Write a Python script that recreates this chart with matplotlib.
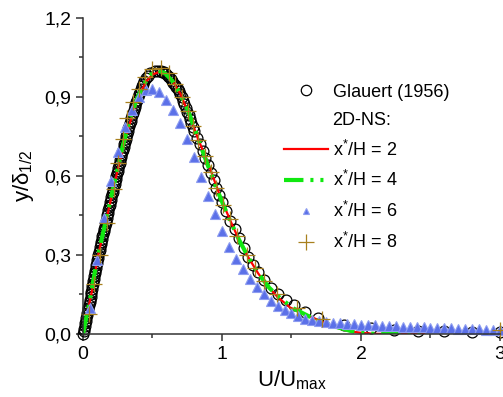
import matplotlib
matplotlib.use("Agg")
import matplotlib.pyplot as plt
from matplotlib.lines import Line2D
from matplotlib.ticker import MultipleLocator, FuncFormatter

# Glauert (1956) similarity profile
glauert_x = [0.000, 0.004, 0.008, 0.012, 0.016, 0.020, 0.024, 0.027, 0.031, 0.035,
             0.039, 0.043, 0.047, 0.050, 0.054, 0.058, 0.061, 0.065, 0.068, 0.072,
             0.075, 0.079, 0.082, 0.086, 0.089, 0.093, 0.096, 0.100, 0.103, 0.107,
             0.110, 0.115, 0.119, 0.123, 0.127, 0.132, 0.136, 0.140, 0.144, 0.149,
             0.153, 0.157, 0.162, 0.166, 0.170, 0.175, 0.179, 0.183, 0.188, 0.192,
             0.196, 0.201, 0.205, 0.209, 0.214, 0.218, 0.222, 0.227, 0.231, 0.236,
             0.240, 0.245, 0.249, 0.254, 0.258, 0.263, 0.267, 0.272, 0.277, 0.282,
             0.287, 0.292, 0.297, 0.301, 0.306, 0.311, 0.316, 0.321, 0.327, 0.332,
             0.337, 0.342, 0.348, 0.353, 0.359, 0.365, 0.371, 0.377, 0.383, 0.390,
             0.396, 0.403, 0.410, 0.417, 0.424, 0.433, 0.442, 0.453, 0.465, 0.485,
             0.515, 0.540,
             0.56, 0.57, 0.58, 0.59, 0.60, 0.61, 0.62, 0.63, 0.64, 0.65,
             0.66, 0.67, 0.68, 0.69, 0.70, 0.71, 0.72, 0.73, 0.74, 0.75,
             0.76, 0.77, 0.78, 0.79, 0.80, 0.82, 0.84, 0.86, 0.88, 0.90,
             0.92, 0.94, 0.96, 0.98, 1.00, 1.03, 1.06, 1.09, 1.12, 1.155,
             1.19, 1.225, 1.26, 1.30, 1.35, 1.40, 1.46, 1.52, 1.60, 1.69,
             1.88, 2.07, 2.24, 2.41, 2.60, 2.80, 3.00]
glauert_y = [0.00, 0.01, 0.02, 0.03, 0.04, 0.05, 0.06, 0.07, 0.08, 0.09,
             0.10, 0.11, 0.12, 0.13, 0.14, 0.15, 0.16, 0.17, 0.18, 0.19,
             0.20, 0.21, 0.22, 0.23, 0.24, 0.25, 0.26, 0.27, 0.28, 0.29,
             0.30, 0.31, 0.32, 0.33, 0.34, 0.35, 0.36, 0.37, 0.38, 0.39,
             0.40, 0.41, 0.42, 0.43, 0.44, 0.45, 0.46, 0.47, 0.48, 0.49,
             0.50, 0.51, 0.52, 0.53, 0.54, 0.55, 0.56, 0.57, 0.58, 0.59,
             0.60, 0.61, 0.62, 0.63, 0.64, 0.65, 0.66, 0.67, 0.68, 0.69,
             0.70, 0.71, 0.72, 0.73, 0.74, 0.75, 0.76, 0.77, 0.78, 0.79,
             0.80, 0.81, 0.82, 0.83, 0.84, 0.85, 0.86, 0.87, 0.88, 0.89,
             0.90, 0.91, 0.92, 0.93, 0.94, 0.95, 0.96, 0.97, 0.98, 0.99,
             0.997, 1.000,
             0.998, 0.996, 0.993, 0.989, 0.985, 0.980, 0.974, 0.968, 0.961, 0.953,
             0.945, 0.937, 0.929, 0.921, 0.912, 0.899, 0.886, 0.872, 0.858, 0.843,
             0.830, 0.816, 0.800, 0.785, 0.770, 0.745, 0.720, 0.695, 0.668, 0.640,
             0.612, 0.585, 0.555, 0.527, 0.500, 0.465, 0.430, 0.397, 0.364, 0.327,
             0.292, 0.262, 0.235, 0.205, 0.175, 0.150, 0.128, 0.108, 0.082, 0.062,
             0.035, 0.022, 0.016, 0.012, 0.010, 0.008, 0.007]

# 2D-NS, x*/H = 2
ns2_x = [0, 0.06, 0.11, 0.175, 0.24, 0.31, 0.36, 0.40, 0.45, 0.50, 0.55,
         0.60, 0.65, 0.70, 0.77, 0.83, 0.90, 0.95, 1.00, 1.06, 1.12, 1.19,
         1.26, 1.33, 1.40, 1.49, 1.64, 1.80, 1.90, 2.00, 2.10, 2.30, 2.50]
ns2_y = [0, 0.15, 0.30, 0.45, 0.60, 0.75, 0.84, 0.90, 0.955, 0.985, 0.995,
         0.985, 0.955, 0.912, 0.824, 0.737, 0.65, 0.575, 0.505, 0.43, 0.36, 0.29,
         0.23, 0.18, 0.14, 0.10, 0.065, 0.027, 0.012, 0.004, 0.0, 0.0, 0.0]

# 2D-NS, x*/H = 4
ns4_x = [0, 0.05, 0.10, 0.16, 0.22, 0.28, 0.34, 0.39, 0.44, 0.49, 0.54,
         0.59, 0.64, 0.69, 0.75, 0.81, 0.87, 0.93, 0.99, 1.05, 1.12, 1.19,
         1.26, 1.34, 1.42, 1.52, 1.65, 1.80, 1.92, 2.00, 2.10, 2.30, 2.45]
ns4_y = [0, 0.13, 0.28, 0.42, 0.56, 0.70, 0.82, 0.895, 0.95, 0.985, 1.0,
         0.99, 0.962, 0.92, 0.855, 0.77, 0.68, 0.595, 0.515, 0.44, 0.36, 0.29,
         0.23, 0.175, 0.135, 0.095, 0.06, 0.03, 0.012, 0.004, 0.0, 0.0, 0.0]

# 2D-NS, x*/H = 6
ns6_x = [0.05, 0.10, 0.15, 0.20, 0.25, 0.30, 0.35, 0.40, 0.45, 0.50,
         0.55, 0.60, 0.65, 0.70, 0.75, 0.80, 0.85, 0.90, 0.95, 1.00,
         1.05, 1.10, 1.15, 1.20, 1.25, 1.30, 1.35, 1.40, 1.45, 1.50,
         1.55, 1.60, 1.65, 1.70, 1.75, 1.80, 1.85, 1.90, 1.95, 2.00,
         2.05, 2.10, 2.15, 2.20, 2.25, 2.30, 2.35, 2.40, 2.45, 2.50,
         2.55, 2.60, 2.65, 2.70, 2.75, 2.80, 2.85, 2.90, 2.95, 3.00]
ns6_y = [0.10, 0.28, 0.44, 0.58, 0.69, 0.785, 0.85, 0.90, 0.925, 0.93,
         0.92, 0.89, 0.85, 0.80, 0.74, 0.67, 0.595, 0.525, 0.455, 0.39,
         0.33, 0.285, 0.245, 0.21, 0.178, 0.15, 0.125, 0.106, 0.09, 0.078,
         0.066, 0.058, 0.052, 0.048, 0.045, 0.042, 0.040, 0.038, 0.036, 0.035,
         0.033, 0.032, 0.031, 0.030, 0.029, 0.028, 0.027, 0.026, 0.025, 0.024,
         0.023, 0.022, 0.021, 0.020, 0.019, 0.018, 0.017, 0.016, 0.016, 0.015]

# 2D-NS, x*/H = 8
ns8_x = [0.045, 0.08, 0.12, 0.17, 0.225, 0.255, 0.285, 0.32, 0.36, 0.40,
         0.445, 0.50, 0.56, 0.62, 0.665, 0.715, 0.755, 0.79, 0.83, 0.875,
         0.92, 0.96, 1.01, 1.055, 1.11, 1.18, 1.24, 1.30, 1.395, 1.54,
         1.72, 3.0]
ns8_y = [0.076, 0.19, 0.30, 0.42, 0.55, 0.65, 0.74, 0.82, 0.88, 0.93,
         0.975, 1.005, 1.01, 0.99, 0.95, 0.90, 0.845, 0.79, 0.735, 0.675,
         0.615, 0.555, 0.49, 0.435, 0.37, 0.30, 0.25, 0.20, 0.15, 0.10,
         0.055, 0.015]

labels = ["Glauert (1956)", "2D-NS:", r"x$^{*}$/H = 2", r"x$^{*}$/H = 4",
          r"x$^{*}$/H = 6", r"x$^{*}$/H = 8"]

plt.rcParams["font.family"] = ["Liberation Sans", "DejaVu Sans"]
plt.rcParams["mathtext.fontset"] = "custom"
plt.rcParams["mathtext.rm"] = "Liberation Sans"
plt.rcParams["mathtext.it"] = "Liberation Sans:italic"
plt.rcParams["mathtext.bf"] = "Liberation Sans:bold"
plt.rcParams["lines.scale_dashes"] = False

tri_face = "#5b70e8"
tri_edge = "#8d9cf0"
cross_col = "#a8801e"
green = "#10e810"

fig = plt.figure(figsize=(5.03, 3.97), dpi=100)
ax = fig.add_axes([0.165, 0.159, 0.829, 0.796])

ax.plot(glauert_x, glauert_y, linestyle="none", marker="o", ms=7.8,
        mfc="none", mec="black", mew=0.9, clip_on=False)
ax.plot(ns2_x, ns2_y, color="red", lw=1.6)
ax.plot(ns4_x, ns4_y, color=green, lw=3.0,
        dashes=(14, 5, 2.2, 5, 2.2, 5))
ax.plot(ns6_x, ns6_y, linestyle="none", marker="^", ms=7,
        mfc=tri_face, mec=tri_edge, mew=0.8, clip_on=False)
ax.plot(ns8_x, ns8_y, linestyle="none", marker="+", ms=11,
        color=cross_col, mew=0.9, clip_on=False)

ax.set_xlim(0, 3)
ax.set_ylim(0, 1.2)
ax.spines["top"].set_visible(False)
ax.spines["right"].set_visible(False)
for s in ["left", "bottom"]:
    ax.spines[s].set_linewidth(1.1)
    ax.spines[s].set_color("#333333")

ax.xaxis.set_major_locator(MultipleLocator(1))
ax.xaxis.set_minor_locator(MultipleLocator(0.5))
ax.yaxis.set_major_locator(MultipleLocator(0.3))
ax.yaxis.set_minor_locator(MultipleLocator(0.15))
ax.xaxis.set_major_formatter(FuncFormatter(lambda v, p: "%d" % round(v)))
ax.yaxis.set_major_formatter(FuncFormatter(lambda v, p: ("%.1f" % v).replace(".", ",")))
ax.tick_params(which="major", direction="out", length=5, width=1.1,
               labelsize=14, color="#333333")
ax.tick_params(which="minor", direction="out", length=3, width=1.1,
               color="#333333")

ax.set_xlabel(r"U/U$_{\mathrm{max}}$", fontsize=16, labelpad=4)
ax.set_ylabel(r"y/δ$_{\mathrm{1/2}}$", fontsize=16, labelpad=6)

handles = [
    Line2D([], [], linestyle="none", marker="o", ms=7.5, mfc="none", mec="black", mew=0.9),
    Line2D([], [], linestyle="none"),
    Line2D([], [], color="red", lw=1.6),
    Line2D([], [], color=green, lw=3.0, dashes=(14, 5, 2.2, 5, 2.2, 5)),
    Line2D([], [], linestyle="none", marker="^", ms=5, mfc=tri_face, mec=tri_edge, mew=0.8),
    Line2D([], [], linestyle="none", marker="+", ms=11, color=cross_col, mew=0.9),
]
ax.legend(handles, labels, loc="upper left", bbox_to_anchor=(0.46, 0.82),
          frameon=False, fontsize=13, handlelength=2.45, handletextpad=0.25,
          labelspacing=0.6, borderpad=0)

fig.savefig("out.png", dpi=100)
